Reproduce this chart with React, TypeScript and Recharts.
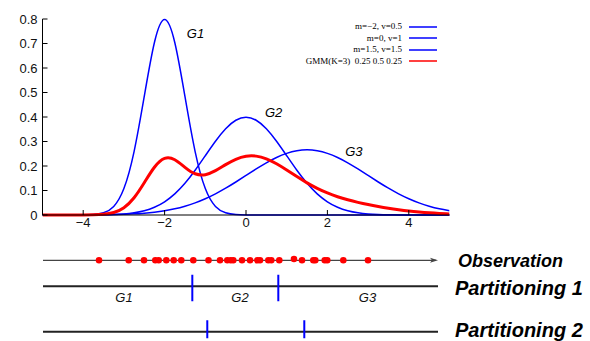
import React from 'react';
import {
  LineChart,
  Line,
  XAxis,
  YAxis,
  Legend,
  ReferenceDot,
  ComposedChart,
  Scatter,
  ReferenceLine,
} from 'recharts';

// density curves sampled every 0.25 on [-5, 5]
const X_VALUES = [
  -5, -4.75, -4.5, -4.25, -4, -3.75, -3.5, -3.25, -3, -2.75, -2.5, -2.25, -2, -1.75, -1.5, -1.25, -1, -0.75, -0.5, -0.25,
  0, 0.25, 0.5, 0.75, 1, 1.25, 1.5, 1.75, 2, 2.25, 2.5, 2.75, 3, 3.25, 3.5, 3.75, 4, 4.25, 4.5, 4.75, 5,
];
const G1 = [
  0, 0, 0, 0, 0.0003, 0.0017, 0.0089, 0.0351, 0.108, 0.259, 0.4839, 0.7042, 0.7979, 0.7042, 0.4839, 0.259, 0.108, 0.0351, 0.0089, 0.0017,
  0.0003, 0, 0, 0, 0, 0, 0, 0, 0, 0, 0, 0, 0, 0, 0, 0, 0, 0, 0, 0, 0,
];
const G2 = [
  0, 0, 0, 0, 0.0001, 0.0004, 0.0009, 0.002, 0.0044, 0.0091, 0.0175, 0.0317, 0.054, 0.0863, 0.1295, 0.1826, 0.242, 0.3011, 0.3521, 0.3867,
  0.3989, 0.3867, 0.3521, 0.3011, 0.242, 0.1826, 0.1295, 0.0863, 0.054, 0.0317, 0.0175, 0.0091, 0.0044, 0.002, 0.0009, 0.0004, 0.0001, 0, 0, 0, 0,
];
const G3 = [
  0, 0, 0.0001, 0.0002, 0.0003, 0.0006, 0.001, 0.0018, 0.003, 0.0048, 0.0076, 0.0117, 0.0175, 0.0254, 0.036, 0.0495, 0.0663, 0.0863, 0.1093, 0.1347,
  0.1613, 0.1879, 0.213, 0.2347, 0.2516, 0.2623, 0.266, 0.2623, 0.2516, 0.2347, 0.213, 0.1879, 0.1613, 0.1347, 0.1093, 0.0863, 0.0663, 0.0495, 0.036, 0.0254, 0.0175,
];
const GMM = [
  0, 0, 0, 0.0001, 0.0002, 0.0008, 0.0029, 0.0102, 0.03, 0.0705, 0.1316, 0.1948, 0.2309, 0.2256, 0.1947, 0.1684, 0.1646, 0.1809, 0.2056, 0.2275,
  0.2399, 0.2403, 0.2293, 0.2092, 0.1839, 0.1569, 0.1313, 0.1087, 0.0899, 0.0745, 0.062, 0.0515, 0.0425, 0.0347, 0.0278, 0.0218, 0.0166, 0.0124, 0.009, 0.0064, 0.0044,
];

const X_TICKS = [-4, -2, 0, 2, 4];
const Y_TICKS = [0, 0.1, 0.2, 0.3, 0.4, 0.5, 0.6, 0.7, 0.8];

const SERIES = [
  { key: 'g1', name: 'm=\u22122, v=0.5', color: '#0000ff', width: 1.5 },
  { key: 'g2', name: 'm=0, v=1', color: '#0000ff', width: 1.5 },
  { key: 'g3', name: 'm=1.5, v=1.5', color: '#0000ff', width: 1.5 },
  { key: 'gmm', name: 'GMM(K=3)  0.25 0.5 0.25', color: '#ff0000', width: 3 },
];

const CURVE_LABELS = [
  { text: 'G1', x: -1.24, y: 0.743 },
  { text: 'G2', x: 0.68, y: 0.42 },
  { text: 'G3', x: 2.65, y: 0.261 },
];

// observation strip (its own axis, 0..10)
const OBS_X = [
  1.418, 2.17, 2.557, 2.843, 2.929, 3.122, 3.309, 3.501, 3.805, 4.19, 4.481, 4.666, 4.752, 4.818, 5.038,
  5.241, 5.425, 5.494, 5.704, 5.78, 5.982, 6.354, 6.557, 6.843, 6.894, 7.132, 7.197, 7.603, 8.228,
];
const OBS_LIFT = [0, 0, 0, 0, 0, 0, 0, 0, 0, 0, 0, 0, 0, 0, 0, 0, 0, 0, 0, 0, 0, 0.05, 0, 0, 0, 0, 0, 0, 0];
const PART1_CUTS = [3.78, 5.957];
const PART2_CUTS = [4.159, 6.615];
const PART1_GROUPS = ['G1', 'G2', 'G3'];
const PART1_GROUP_X = [2.051, 4.987, 8.215];
const ROW_VALUES = [0, 1, 2.75];
const ROW_LABELS = ['Observation', 'Partitioning 1', 'Partitioning 2'];

const SANS = '"Liberation Sans", Arial, Helvetica, sans-serif';
const SERIF = '"Liberation Serif", "Times New Roman", serif';

const curveData = X_VALUES.map((x, i) => ({ x, g1: G1[i], g2: G2[i], g3: G3[i], gmm: GMM[i] }));

const fmtX = (v: number) => (v < 0 ? `\u2212${Math.abs(v)}` : `${v}`);
const fmtY = (v: number) => (v === 0 ? '0' : v.toFixed(1));

const LegendBox = () => (
  <div style={{ fontFamily: SERIF, fontSize: 9, color: '#000' }}>
    {SERIES.map((s) => (
      <div key={s.key} style={{ display: 'flex', alignItems: 'center', justifyContent: 'flex-end', height: 11.5 }}>
        <span style={{ whiteSpace: 'pre', lineHeight: '11.5px' }}>{s.name}</span>
        <svg width={28} height={4} style={{ marginLeft: 7, display: 'block' }}>
          <line x1={0} y1={2} x2={28} y2={2} stroke={s.color} strokeWidth={1.5} />
        </svg>
      </div>
    ))}
  </div>
);

const RowLabel = (props: any) => {
  const { x, y, payload } = props;
  const idx = ROW_VALUES.indexOf(payload.value);
  const first = idx === 0;
  const shift = idx === 2 ? -2.5 : idx === 1 ? 1 : 0;
  return (
    <text
      x={x + (first ? 20 : 17)}
      y={y + shift}
      dy="0.36em"
      fontFamily={SANS}
      fontWeight="bold"
      fontStyle="italic"
      fontSize={first ? 18 : 20}
      fill="#000"
    >
      {ROW_LABELS[idx]}
    </text>
  );
};

const ArrowLine = (p: any) => {
  const left = Math.min(p.x1, p.x2);
  const right = Math.max(p.x1, p.x2);
  const y = p.y1;
  return (
    <g>
      <line x1={left} y1={y} x2={right - 2} y2={y} stroke="#444" strokeWidth={1.3} />
      <path d={`M${right},${y} L${right - 8},${y - 2.5} L${right - 6},${y} L${right - 8},${y + 2.5} Z`} fill="#444" />
    </g>
  );
};

export default function App() {
  const obsData = OBS_X.map((x, i) => ({ x, y: ROW_VALUES[0] - OBS_LIFT[i] }));
  const p1Data = PART1_CUTS.map((x) => ({ x, y: ROW_VALUES[1] }));
  const p2Data = PART2_CUTS.map((x) => ({ x, y: ROW_VALUES[2] }));
  const groupData = PART1_GROUPS.map((g, i) => ({ x: PART1_GROUP_X[i], y: ROW_VALUES[1], g }));

  const axisFont = { fontFamily: SANS, fontSize: 13, fill: '#111' };

  return (
    <div style={{ position: 'absolute', left: 0, top: 0, width: 590, height: 341, background: '#fff' }}>
      <LineChart width={590} height={240} data={curveData} margin={{ top: 19, right: 140.5, bottom: 0, left: 0 }}>
        <XAxis
          xAxisId="b"
          dataKey="x"
          type="number"
          domain={[-5, 5]}
          ticks={X_TICKS}
          tickFormatter={fmtX}
          height={25}
          tickSize={-5}
          tickMargin={8}
          axisLine={{ stroke: '#000' }}
          tickLine={{ stroke: '#000' }}
          tick={axisFont}
          allowDataOverflow
        />
        <XAxis
          xAxisId="t"
          orientation="top"
          dataKey="x"
          type="number"
          domain={[-5, 5]}
          ticks={X_TICKS}
          tickFormatter={() => ''}
          height={0}
          tickSize={-5}
          axisLine={{ stroke: '#000' }}
          tickLine={{ stroke: '#000' }}
        />
        <YAxis
          yAxisId="l"
          type="number"
          domain={[0, 0.8]}
          ticks={Y_TICKS}
          tickFormatter={fmtY}
          width={42.5}
          tickSize={-5}
          tickMargin={10}
          axisLine={{ stroke: '#000' }}
          tickLine={{ stroke: '#000' }}
          tick={axisFont}
        />
        <YAxis
          yAxisId="r"
          orientation="right"
          type="number"
          domain={[0, 0.8]}
          ticks={Y_TICKS}
          tickFormatter={() => ''}
          width={0}
          tickSize={-5}
          axisLine={{ stroke: '#000' }}
          tickLine={{ stroke: '#000' }}
        />
        {SERIES.map((s) => (
          <Line
            key={s.key}
            xAxisId="b"
            yAxisId="l"
            type="natural"
            dataKey={s.key}
            name={s.name}
            stroke={s.color}
            strokeWidth={s.width}
            dot={false}
            isAnimationActive={false}
          />
        ))}
        {CURVE_LABELS.map((c) => (
          <ReferenceDot
            key={c.text}
            xAxisId="b"
            yAxisId="l"
            x={c.x}
            y={c.y}
            r={0}
            stroke="none"
            fill="none"
            label={{ value: c.text, position: 'center', fontFamily: SANS, fontStyle: 'italic', fontSize: 13, fill: '#000' }}
          />
        ))}
        <Legend
          content={<LegendBox />}
          layout="horizontal"
          align="center"
          verticalAlign="middle"
          wrapperStyle={{ left: 287, top: 21, width: 150 }}
        />
      </LineChart>

      <div style={{ position: 'absolute', left: 0, top: 230 }}>
        <ComposedChart width={590} height={111} margin={{ top: 4.3, right: 0, bottom: 2.7, left: 43 }}>
          <XAxis dataKey="x" type="number" domain={[0, 10]} allowDataOverflow hide />
          <YAxis
            dataKey="y"
            orientation="right"
            type="number"
            domain={[-1, 3]}
            allowDataOverflow
            reversed
            ticks={ROW_VALUES}
            width={152}
            axisLine={false}
            tickLine={false}
            tickSize={0}
            tickMargin={0}
            tick={<RowLabel />}
            interval={0}
          />
          <ReferenceLine y={ROW_VALUES[0]} shape={ArrowLine} />
          <ReferenceLine y={ROW_VALUES[1]} stroke="#222" strokeWidth={2} />
          <ReferenceLine y={ROW_VALUES[2]} stroke="#222" strokeWidth={2} />
          <Scatter
            data={obsData}
            isAnimationActive={false}
            shape={(p: any) => <circle cx={p.cx} cy={p.cy} r={3.3} fill="#ff0000" />}
          />
          <Scatter
            data={p1Data}
            isAnimationActive={false}
            shape={(p: any) => (
              <line x1={p.cx} x2={p.cx} y1={p.cy - 11.5} y2={p.cy + 15} stroke="#0000ff" strokeWidth={2} />
            )}
          />
          <Scatter
            data={p2Data}
            isAnimationActive={false}
            shape={(p: any) => (
              <line x1={p.cx} x2={p.cx} y1={p.cy - 11.5} y2={p.cy + 15} stroke="#0000ff" strokeWidth={2} />
            )}
          />
          <Scatter
            data={groupData}
            isAnimationActive={false}
            shape={(p: any) => (
              <text
                x={p.cx}
                y={p.cy + 15.5}
                textAnchor="middle"
                fontFamily={SANS}
                fontStyle="italic"
                fontSize={13}
                fill="#111"
              >
                {p.payload.g}
              </text>
            )}
          />
        </ComposedChart>
      </div>
    </div>
  );
}
